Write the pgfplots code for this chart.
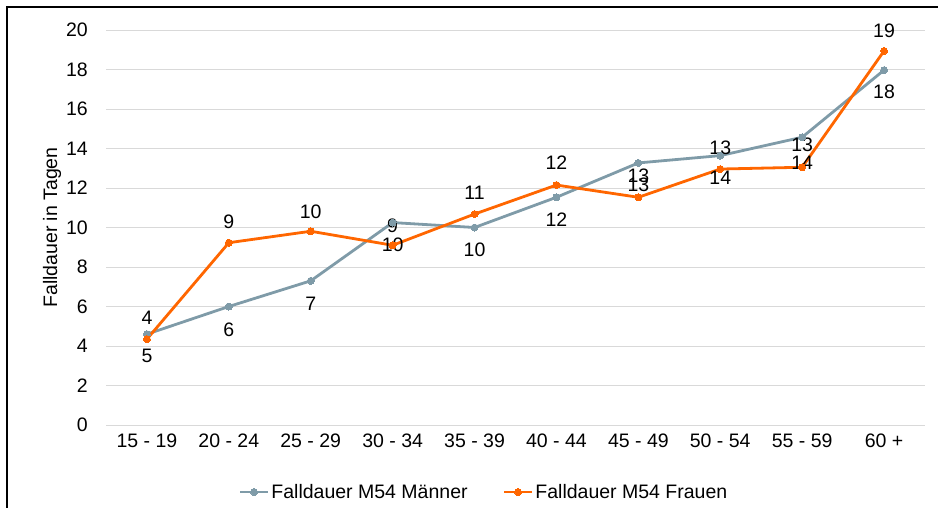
\documentclass[border=0pt]{standalone}
\usepackage{fontspec}
\setmainfont{Liberation Sans}
\usepackage{pgfplots}
\pgfplotsset{compat=1.18}
\definecolor{mgrey}{RGB}{127,155,168}
\definecolor{forange}{RGB}{255,102,0}
\definecolor{gridc}{RGB}{217,217,217}
\newcommand{\fs}{\fontsize{19.5}{23}\selectfont}
\begin{document}
\begin{tikzpicture}
\path[use as bounding box] (0pt,0pt) rectangle (942pt,507pt);
\draw[line width=2.5pt] (7pt,-2pt) -- (7pt,500pt) -- (938pt,500pt);
\begin{axis}[
  at={(106pt,82pt)}, anchor=south west,
  width=819pt, height=395pt, scale only axis,
  xmin=-0.5, xmax=9.5, ymin=0, ymax=20,
  ytick={0,2,...,20},
  xtick={0,...,9},
  xticklabels={15 - 19, 20 - 24, 25 - 29, 30 - 34, 35 - 39, 40 - 44, 45 - 49, 50 - 54, 55 - 59, 60 +},
  axis line style={draw=none},
  tick style={draw=none},
  ymajorgrids,
  grid style={gridc, line width=1pt},
  /pgf/number format/assume math mode=true,
  tick label style={font=\fs},
  xticklabel style={anchor=base, inner sep=0pt, yshift=-22pt},
  yticklabel style={anchor=east, inner sep=0pt, xshift=-18pt},
  ylabel={Falldauer in Tagen},
  ylabel style={font=\fs, at={(axis description cs:-0.0659,0.5)}, anchor=center},
  legend style={at={(axis description cs:0.4615,-0.1696)}, anchor=center, draw=none, fill=none,
    font=\fs, /tikz/every even column/.append style={column sep=33pt}},
  legend columns=2,
  legend cell align=left,
  legend image code/.code={\draw[#1, mark repeat=2, mark phase=2] plot coordinates {(0pt,0pt) (14pt,0pt) (28pt,0pt)};},
  clip=false,
]
\addplot[mgrey, line width=2.8pt, mark=*, mark size=3.5pt, mark options={solid, fill=mgrey, draw=mgrey, line width=0pt}]
  coordinates {(0,4.6) (1,6.0) (2,7.3) (3,10.25) (4,10.0) (5,11.53) (6,13.27) (7,13.64) (8,14.57) (9,17.97)};
\addlegendentry{Falldauer M54 Männer}
\addplot[forange, line width=2.8pt, mark=*, mark size=3.5pt, mark options={solid, fill=forange, draw=forange, line width=0pt}]
  coordinates {(0,4.35) (1,9.23) (2,9.81) (3,9.1) (4,10.68) (5,12.15) (6,11.53) (7,12.96) (8,13.05) (9,18.94)};
\addlegendentry{Falldauer M54 Frauen}
\begin{scope}[every node/.style={font=\fs, inner sep=0pt}]
\node at (axis cs:0,5.42) {4};
\node at (axis cs:0,3.49) {5};
\node at (axis cs:1,4.81) {6};
\node at (axis cs:1,10.28) {9};
\node at (axis cs:2,10.78) {10};
\node at (axis cs:2,6.13) {7};
\node at (axis cs:3,10.08) {9};
\node at (axis cs:3,9.11) {10};
\node at (axis cs:4,11.75) {11};
\node at (axis cs:4,8.86) {10};
\node at (axis cs:5,13.27) {12};
\node at (axis cs:5,10.38) {12};
\node at (axis cs:6,12.6) {13};
\node at (axis cs:6,12.15) {13};
\node at (axis cs:7,14.03) {13};
\node at (axis cs:7,12.5) {14};
\node at (axis cs:8,14.18) {13};
\node at (axis cs:8,13.3) {14};
\node at (axis cs:9,19.95) {19};
\node at (axis cs:9,16.86) {18};
\end{scope}
\end{axis}
\end{tikzpicture}
\end{document}
